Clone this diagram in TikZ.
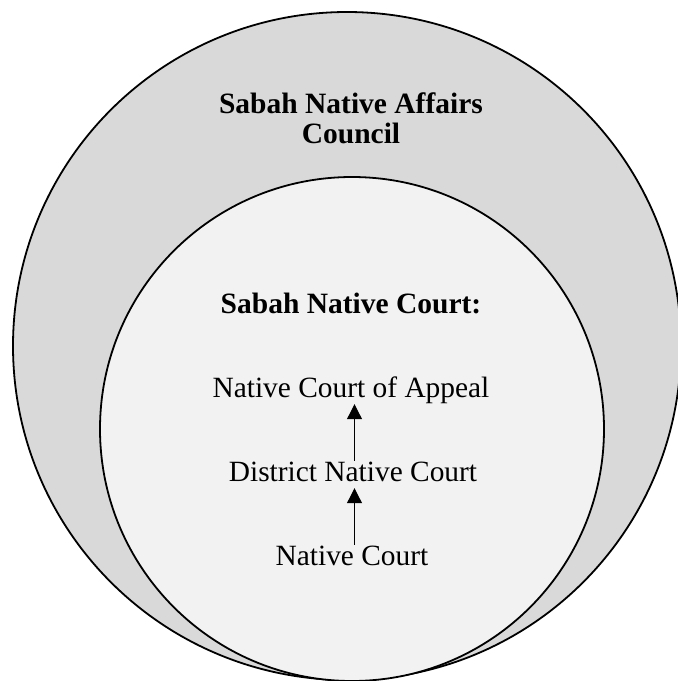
\documentclass[tikz,border=0pt]{standalone}
\usepackage{fontspec}
\setmainfont{Liberation Serif}
\usetikzlibrary{arrows.meta}
\definecolor{outerfill}{HTML}{D9D9D9}
\definecolor{innerfill}{HTML}{F2F2F2}
\begin{document}
\begin{tikzpicture}[x=1pt,y=-1pt,
  ring/.style={circle, draw=black, line width=1.8pt, inner sep=0pt},
  lbl/.style={font=\fontsize{29.4}{31}\selectfont, inner sep=1pt, text height=19pt, text depth=6pt},
  title/.style={font=\fontsize{29.5}{30}\selectfont\bfseries, align=center, inner sep=0pt},
  arr/.style={-{Triangle[length=15pt,width=15pt]}, line width=1.1pt}]
\useasboundingbox (0,0) rectangle (678,681);
\begin{scope}
\clip (0,0) rectangle (678,681);
\node[ring, fill=outerfill, minimum size=668pt] (outer) at (347,346) {};
\node[ring, fill=innerfill, minimum size=504pt] (inner) at (352,429) {};
\end{scope}
\node[title, anchor=base] (council) at (351,143) {Sabah Native Affairs\\Council};
\node[title, anchor=base] (snc) at (351,313) {Sabah Native Court:};
\node[lbl, anchor=base] (appeal) at (351,397) {Native Court of Appeal};
\node[lbl, anchor=base] (district) at (353,481) {District Native Court};
\node[lbl, anchor=base] (native) at (352,565) {Native Court};
\draw[arr] (native.north -| 354.5,0) -- (district.south -| 354.5,0);
\draw[arr] (district.north -| 354.5,0) -- (appeal.south -| 354.5,0);
\end{tikzpicture}
\end{document}
